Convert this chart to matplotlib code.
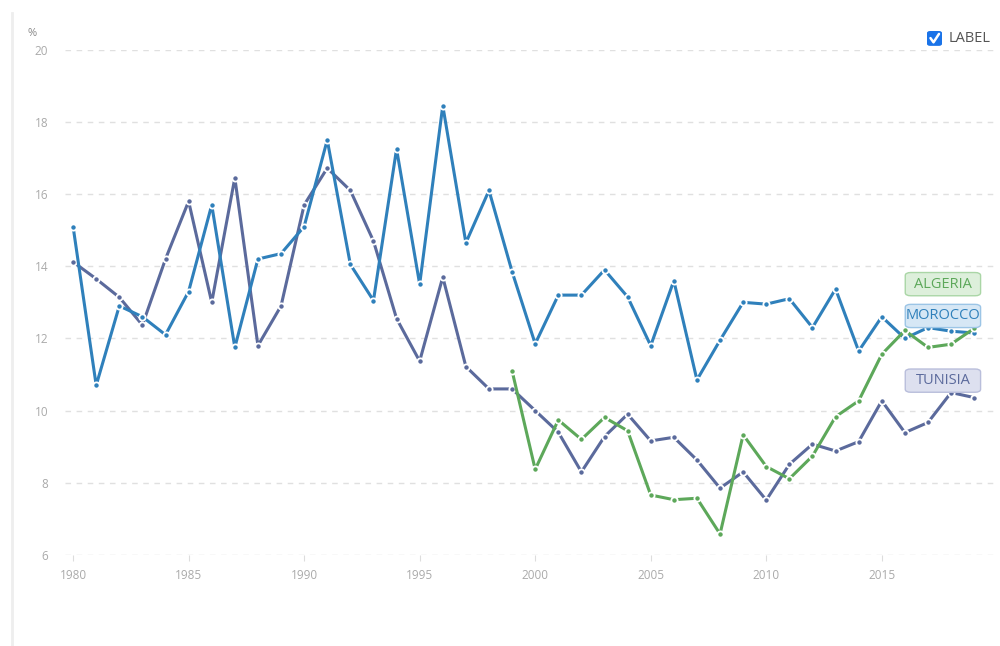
import matplotlib.pyplot as plt
from matplotlib.patches import FancyBboxPatch
from matplotlib.lines import Line2D

plt.rcParams['font.family'] = ['Open Sans', 'DejaVu Sans']

years = list(range(1980, 2020))
morocco = [15.1, 10.7, 12.9, 12.6, 12.1, 13.3, 15.7, 11.75, 14.2, 14.35,
           15.1, 17.5, 14.05, 13.05, 17.25, 13.5, 18.45, 14.65, 16.1, 13.85,
           11.85, 13.2, 13.2, 13.9, 13.15, 11.8, 13.6, 10.85, 11.95, 13.0,
           12.95, 13.1, 12.3, 13.37, 11.65, 12.6, 12.0, 12.3, 12.2, 12.15]
tunisia = [14.12, 13.65, 13.14, 12.37, 14.2, 15.8, 13.0, 16.45, 11.8, 12.9,
           15.7, 16.72, 16.1, 14.7, 12.55, 11.37, 13.7, 11.22, 10.6, 10.6,
           10.0, 9.4, 8.3, 9.28, 9.9, 9.16, 9.26, 8.63, 7.85, 8.3,
           7.52, 8.51, 9.07, 8.88, 9.14, 10.27, 9.39, 9.67, 10.5, 10.36]
algeria_years = list(range(1999, 2020))
algeria = [11.1, 8.37, 9.74, 9.2, 9.81, 9.44, 7.66, 7.53, 7.57, 6.58, 9.33,
           8.45, 8.11, 8.74, 9.83, 10.27, 11.56, 12.22, 11.75, 11.84, 12.28]

series = [
    ('TUNISIA', years, tunisia, '#5b6a9c', '#dde0ef', '#b9bedb'),
    ('MOROCCO', years, morocco, '#2f80bb', '#d6e7f5', '#9cc5e6'),
    ('ALGERIA', algeria_years, algeria, '#5da85a', '#ddefdb', '#aad6a6'),
]
label_y = {'ALGERIA': 0.536, 'MOROCCO': 0.473, 'TUNISIA': 0.345}

fig = plt.figure(figsize=(10, 6.46), dpi=100)
ax = fig.add_axes([0.065, 0.141, 0.93, 0.782])

bw, bh = 0.081, 0.046
for name, xs, ys, col, fill, edge in series:
    ax.plot(xs, ys, color=col, lw=2.2, marker='o', ms=4.5,
            mfc=col, mec='white', mew=1.3, zorder=3)
    ly = label_y[name]
    ax.add_patch(FancyBboxPatch((0.944 - bw / 2, ly - bh / 2), bw, bh,
                                boxstyle='round,pad=0,rounding_size=0.006',
                                fc=fill, ec=edge, lw=1, transform=ax.transAxes,
                                zorder=4, clip_on=False))
    ax.text(0.944, ly, name, transform=ax.transAxes,
            ha='center', va='center', fontsize=10.5, color=col, zorder=5)

ax.set_xlim(1979.65, 2019.9)
ax.set_ylim(6, 20)
ax.set_yticks(range(6, 21, 2))
ax.set_xticks(range(1980, 2016, 5))
for s in ax.spines.values():
    s.set_visible(False)
ax.grid(axis='y', color='#e0e0e0', ls=(0, (4, 4)), lw=1)
ax.tick_params(axis='y', length=0, pad=12, labelsize=8.5, labelcolor='#aaaaaa')
ax.tick_params(axis='x', length=4, color='#dddddd', pad=6,
               labelsize=8.5, labelcolor='#aaaaaa')

fig.text(0.027, 0.945, '%', fontsize=8, color='#888888')

# checkbox legend
fig.patches.append(FancyBboxPatch((0.927, 0.929), 0.015, 0.023,
                                  boxstyle='round,pad=0,rounding_size=0.003',
                                  fc='#1a73e8', ec='none',
                                  transform=fig.transFigure, figure=fig))
fig.lines.append(Line2D([0.9305, 0.9335, 0.9390], [0.941, 0.9345, 0.9475],
                        color='white', lw=1.8, transform=fig.transFigure,
                        solid_capstyle='round'))
fig.text(0.949, 0.940, 'LABEL', fontsize=10.5, color='#555555', va='center')

# left border line
fig.lines.append(Line2D([0.012, 0.012], [0.0, 0.98], color='#eeeeee', lw=2,
                        transform=fig.transFigure))

fig.savefig('out.png', dpi=100)
